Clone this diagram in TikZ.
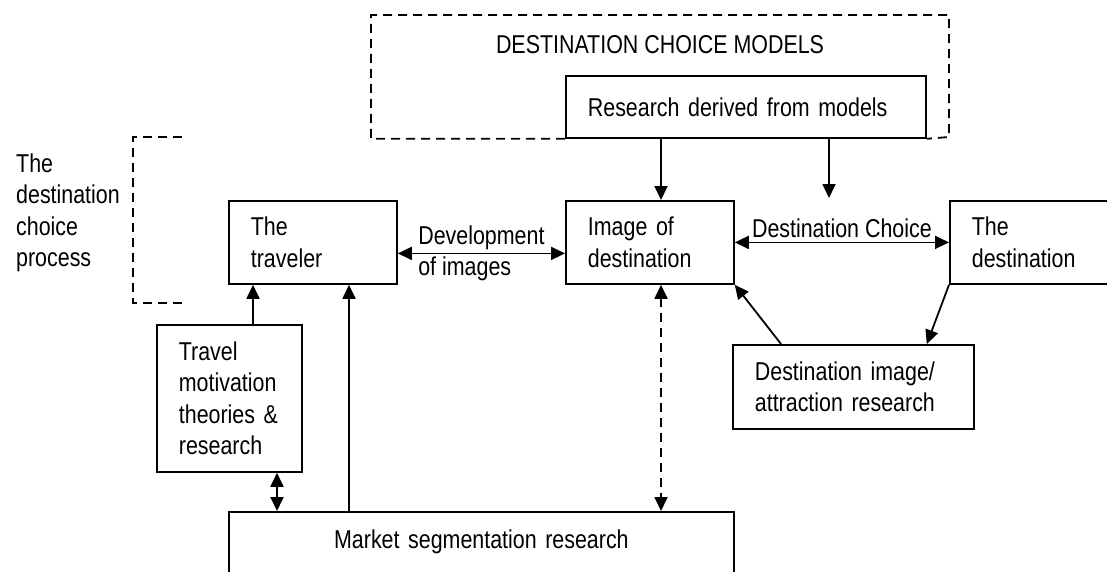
\documentclass[tikz,border=0pt]{standalone}
\usepackage{fontspec}
\setmainfont{Liberation Sans}[FakeStretch=0.83]
\usetikzlibrary{arrows.meta}

\begin{document}
\begin{tikzpicture}[x=1pt, y=-1pt,
  font=\fontsize{25.8}{31.5}\selectfont,
  box/.style={draw, line width=1.8pt, anchor=north west, align=left, inner xsep=22pt, inner ysep=0pt},
  arr/.style={line width=1.8pt, -{Triangle[length=14pt,width=13pt]}},
  darr/.style={line width=1.8pt, {Triangle[length=14pt,width=13pt]}-{Triangle[length=14pt,width=13pt]}},
  dashline/.style={line width=1.8pt, dash pattern=on 9pt off 6pt}]

\useasboundingbox (0,0) rectangle (1107,572);
\clip (0,0) rectangle (1107,572);

% boxes
\node[box, text width=316pt, minimum height=62pt] (rdm) at (565,75) {Research derived from models};
\node[box, text width=124pt, minimum height=83pt] (img) at (565,200) {Image of\\destination};
\node[box, text width=124pt, minimum height=83pt] (tvl) at (228,200) {The\\traveler};
\node[box, text width=200pt, minimum height=83pt] (dst) at (949,200) {The\\destination};
\node[box, text width=197pt, minimum height=84pt] (dimg) at (732,344) {Destination image/\\attraction research};
\node[box, text width=101pt, minimum height=147pt] (trv) at (156,324) {Travel\\motivation\\theories \&\\research};
\node[box, align=center, text width=461pt, text height=37pt, text depth=53pt] (mkt) at (228,511) {Market segmentation research};

\node[inner sep=0pt] (title) at (660,45) {DESTINATION CHOICE MODELS};
\node[anchor=west, align=left, inner sep=0pt] (proc) at (16,213) {The\\destination\\choice\\process};

% dashed frames
\coordinate (fl) at (371,15);
\coordinate (fr) at (949,137);
\draw[dashline] (rdm.south west) -- (fl |- rdm.south) -- (fl) -- (fr |- fl) -- (fr) -- (rdm.south east);
\draw[dashline] (182,137) -- (133,137) -- (133,303) -- (182,303);

% connectors
\draw[arr] ([xshift=96pt]rdm.south west) -- ([xshift=96pt]img.north west);
\coordinate (dc) at (829,198);
\draw[arr] (dc |- rdm.south) -- (dc);

\draw[darr] ([yshift=-11pt]tvl.east) -- ([yshift=-11pt]img.west)
  node[midway, align=left] (dev) {Development\\of images};
\draw[darr] (img.east) -- (img.east -| dst.west)
  node[midway, above] (dch) {Destination Choice};

\draw[arr] ([xshift=49pt]dimg.north west) -- (img.south east);
\draw[arr] (dst.south west) -- ([xshift=-48pt]dimg.north east);

\coordinate (dv) at ([xshift=96pt]img.south west);
\draw[darr, dashline] (dv) -- (dv |- mkt.north);

\draw[arr] ([xshift=97pt]trv.north west) -- ([xshift=25pt]tvl.south west);
\draw[arr] ([xshift=121pt]mkt.north west) -- ([xshift=121pt]tvl.south west);
\draw[darr] ([xshift=121pt]trv.south west) -- ([xshift=49pt]mkt.north west);
\end{tikzpicture}
\end{document}
